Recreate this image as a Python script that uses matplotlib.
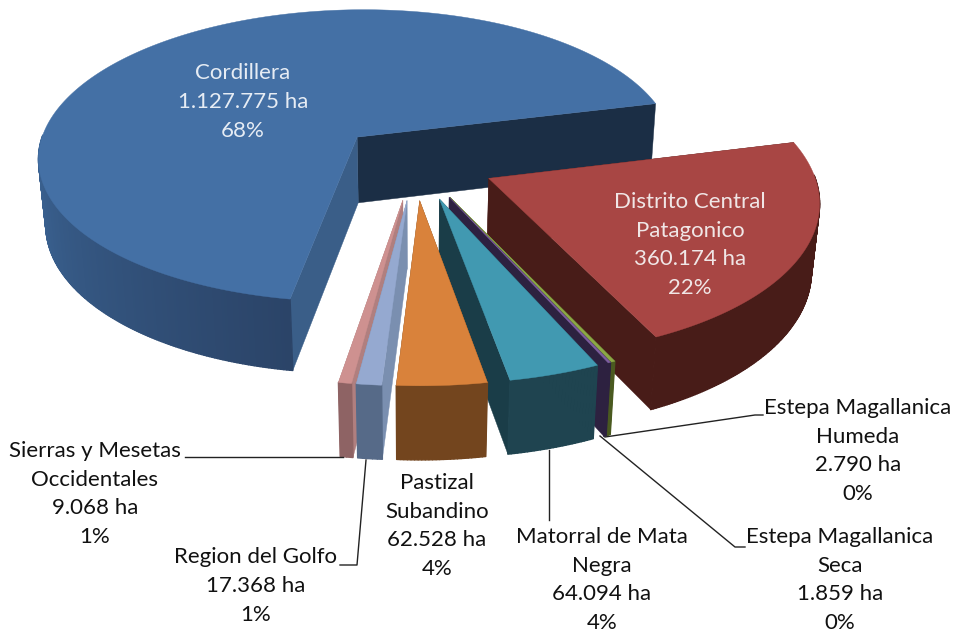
import matplotlib
matplotlib.use('Agg')
import matplotlib.pyplot as plt
import matplotlib.colors as mcolors
import numpy as np
from matplotlib.collections import PolyCollection
from matplotlib.patches import Polygon

# values in ha, clockwise from the right hand corner of Cordillera
names = ['Distrito Central\nPatagonico', 'Estepa Magallanica\nHumeda', 'Estepa Magallanica\nSeca',
         'Matorral de Mata\nNegra', 'Pastizal\nSubandino', 'Region del Golfo',
         'Sierras y Mesetas\nOccidentales', 'Cordillera']
values = [360174, 2790, 1859, 64094, 62528, 17368, 9068, 1127775]
percents = [22, 0, 0, 4, 4, 1, 1, 68]

top_colors = ['#A84644', '#8CA845', '#7E5FA0', '#4199B1', '#D9823B', '#95A9D0', '#CE9190', '#4470A5']
wall_front = ['#481C18', '#4A5A20', '#2D2140', '#1F4450', '#73451E', '#566A88', '#8E6364', '#2B4468']
wall_back = ['#481C18', '#4A5A20', '#2D2140', '#1F4450', '#73451E', '#566A88', '#8E6364', '#3D6798']
first_face = ['#481C18', '#4A5A20', '#2D2140', '#1A3D48', '#73451E', '#7A8FB0', '#B07F7F', '#3A5E88']
last_face = ['#481C18', '#4A5A20', '#2D2140', '#1A3D48', '#73451E', '#7A8FB0', '#B07F7F', '#1B2E45']

# back to front
draw_order = [7, 0, 1, 2, 3, 4, 6, 5]

label_x = [690, 858, 840, 602, 437, 256, 95, 243]
label_y = [245, 451, 580, 580, 526, 586, 494, 102]
label_colors = ['#F0E6E6', '#111111', '#111111', '#111111', '#111111', '#111111', '#111111', '#E6ECF4']

leaders = [
    ([605, 755, 763], [437, 415, 415]),
    ([600, 735, 745], [436, 547, 547]),
    ([549, 549], [450, 520]),
    ([366, 357, 340], [460, 565, 565]),
    ([343, 185], [457, 457]),
]

START_ANGLE = 13.9
EXPLODE = 0.25
CX, CY = 415, 162
A, B, D = 322, 150, 68
P, Q = 0.13, 0.02


def project(u, v, z=0.0):
    w = 1 - P * v + Q * z
    return CX + A * u / w, CY + (B * v + D * z) / w


def face(u, v, z=0.0):
    x, y = project(np.asarray(u), np.asarray(v), z)
    return np.column_stack([x, y])


fig = plt.figure(figsize=(9.54, 6.34), dpi=100)
ax = fig.add_axes([0, 0, 1, 1])
ax.set_xlim(0, 954)
ax.set_ylim(634, 0)
ax.axis('off')

shares = np.array(values) / sum(values)
ends = START_ANGLE - np.cumsum(shares) * 360
starts = ends + shares * 360

for i in draw_order:
    mid = np.radians((starts[i] + ends[i]) / 2)
    ex, ey = EXPLODE * np.cos(mid), -EXPLODE * np.sin(mid)
    n = max(3, int(starts[i] - ends[i]) * 2)
    t = np.radians(np.linspace(ends[i], starts[i], n))
    u = ex + np.cos(t)
    v = ey - np.sin(t)

    # radial faces first, then the outer wall, the top goes over them
    for k, c in ((0, last_face[i]), (-1, first_face[i])):
        quad = np.vstack([face([ex, u[k]], [ey, v[k]]), face([u[k], ex], [v[k], ey], 1.0)])
        ax.add_patch(Polygon(quad, facecolor=c, edgecolor=c, linewidth=0.3))

    top = face(u, v)
    low = face(u, v, 1.0)
    frac = np.clip((n - 2 - np.arange(n - 1)) / (n - 2) / 0.33, 0, 1)
    c0 = np.array(mcolors.to_rgb(wall_front[i]))
    c1 = np.array(mcolors.to_rgb(wall_back[i]))
    quads = []
    cols = []
    for j in range(n - 1):
        # the back half of the wall is out of sight
        if np.sin(t[j]) > 0.02:
            continue
        quads.append(np.vstack([top[j], top[j + 1], low[j + 1], low[j]]))
        cols.append(c0 + (c1 - c0) * frac[j])
    ax.add_collection(PolyCollection(quads, facecolors=cols, edgecolors=cols, linewidths=1.0))

    ax.add_patch(Polygon(face(np.r_[ex, u], np.r_[ey, v]), facecolor=top_colors[i],
                         edgecolor=top_colors[i], linewidth=0.3))

for xs, ys in leaders:
    ax.plot(xs, ys, color='#222222', linewidth=1)

for i in range(len(names)):
    value = f'{values[i]:,}'.replace(',', '.')
    ax.text(label_x[i], label_y[i], f'{names[i]}\n{value} ha\n{percents[i]}%',
            ha='center', va='center', family='Lato', fontsize=16, linespacing=1.56,
            color=label_colors[i])

fig.savefig('out.png', dpi=100)
